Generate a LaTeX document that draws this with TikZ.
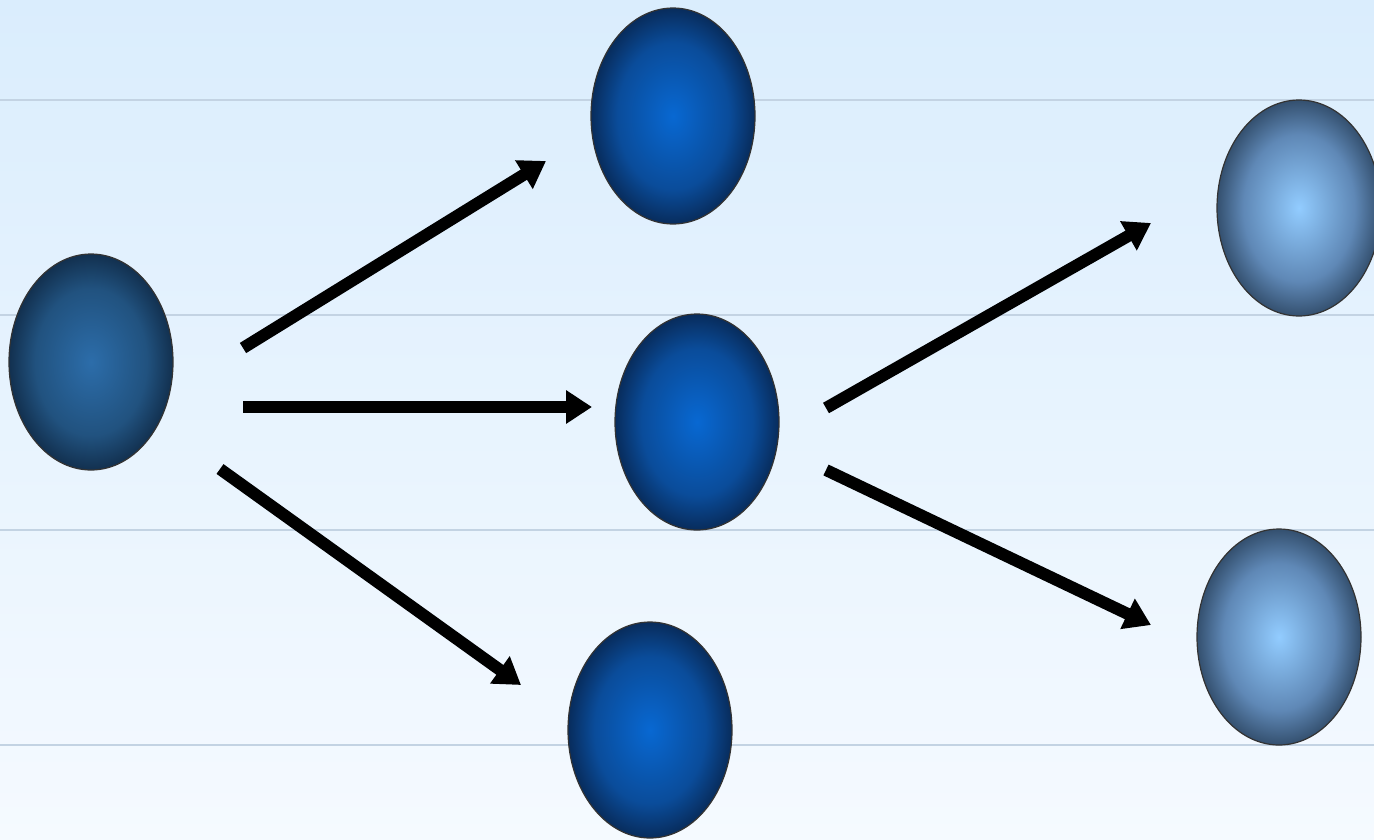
\documentclass[tikz,border=0pt]{standalone}
\usetikzlibrary{arrows.meta,shapes.geometric}
\definecolor{bgtop}{HTML}{DAEDFD}
\definecolor{bgbot}{HTML}{F5FAFF}
\definecolor{rule}{HTML}{C3D3E3}
\definecolor{lin}{HTML}{2C6DAA}
\definecolor{lmid}{HTML}{21527F}
\definecolor{lout}{HTML}{12304F}
\definecolor{min}{HTML}{0868D2}
\definecolor{mmid}{HTML}{0A4C9A}
\definecolor{mout}{HTML}{082C5C}
\definecolor{rin}{HTML}{92CCFF}
\definecolor{rmid}{HTML}{5F88B6}
\definecolor{rout}{HTML}{34506F}
\pgfdeclareradialshading{ballL}{\pgfpoint{0bp}{0bp}}{color(0bp)=(lin); color(17bp)=(lmid); color(25bp)=(lout); color(50bp)=(lout)}
\pgfdeclareradialshading{ballM}{\pgfpoint{0bp}{0bp}}{color(0bp)=(min); color(17bp)=(mmid); color(25bp)=(mout); color(50bp)=(mout)}
\pgfdeclareradialshading{ballR}{\pgfpoint{0bp}{0bp}}{color(0bp)=(rin); color(17bp)=(rmid); color(25bp)=(rout); color(50bp)=(rout)}
\tikzset{
  ball/.style={ellipse, minimum width=164pt, minimum height=216pt, inner sep=0pt, draw=black!80, line width=1.2pt},
  ballleft/.style={ball, shading=ballL},
  ballmid/.style={ball, shading=ballM},
  ballright/.style={ball, shading=ballR},
  arr/.style={line width=12pt, -{Triangle[length=26pt,width=32pt]}},
  ruleline/.style={rule, line width=2.5pt}
}
\begin{document}
\begin{tikzpicture}[x=1pt,y=-1pt]
\useasboundingbox (0,0) rectangle (1374,839);
\shade[top color=bgtop, bottom color=bgbot] (0,0) rectangle (1374,839);
\foreach \yy in {100,315,530,745} \draw[ruleline] (0,\yy) -- (1374,\yy);
\node[ballleft] (L) at (91,362) {};
\node[ballmid] (T) at (673,116) {};
\node[ballmid] (M) at (697,422) {};
\node[ballmid] (B) at (650,730) {};
\node[ballright] (RT) at (1299,208) {};
\node[ballright] (RB) at (1279,637) {};
\coordinate (a1s) at (243,348); \coordinate (a1e) at (546,161);
\coordinate (a2s) at (243,407); \coordinate (a2e) at (592,407);
\coordinate (a3s) at (220,469); \coordinate (a3e) at (521,685);
\coordinate (b1s) at (826,408); \coordinate (b1e) at (1151,223);
\coordinate (b2s) at (826,470); \coordinate (b2e) at (1151,625);
\draw[arr] (a1s) -- (a1e);
\draw[arr] (a2s) -- (a2e);
\draw[arr] (a3s) -- (a3e);
\draw[arr] (b1s) -- (b1e);
\draw[arr] (b2s) -- (b2e);
\end{tikzpicture}
\end{document}
